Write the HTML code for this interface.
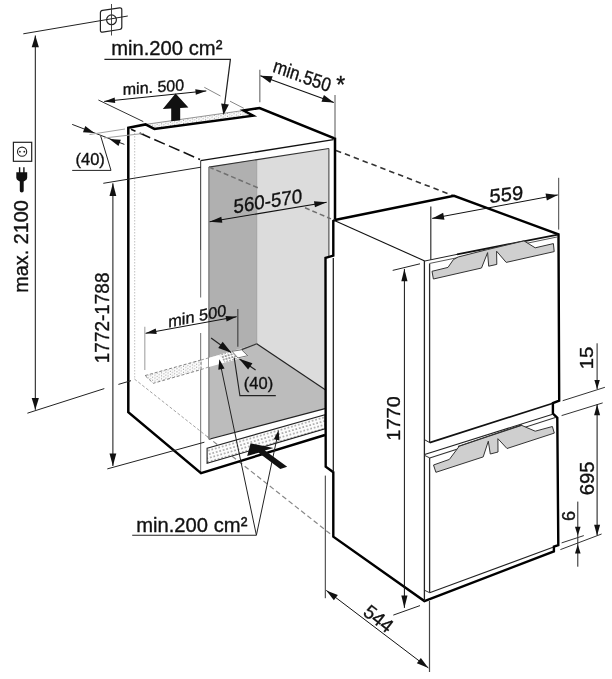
<!DOCTYPE html>
<html><head><meta charset="utf-8"><title>Installation dimensions</title>
<style>
html,body{margin:0;padding:0;background:#fff;}
svg{display:block;will-change:transform;filter:grayscale(1) blur(0.35px);}
text{font-family:"Liberation Sans",sans-serif;fill:#111;stroke:#111;stroke-width:0.35;}
</style></head><body>
<svg width="612" height="679" viewBox="0 0 612 679">
<defs>
<pattern id="dots" width="3.6" height="3.6" patternUnits="userSpaceOnUse" patternTransform="rotate(-16)">
<rect width="3.6" height="3.6" fill="#fcfcfc"/><rect x="0.4" y="0.4" width="1.1" height="1.1" fill="#3a3a3a"/>
</pattern>
<pattern id="dots3" width="3" height="2.9" patternUnits="userSpaceOnUse" patternTransform="rotate(-16) translate(0.8,0.3)">
<rect width="3" height="2.9" fill="#fff"/><rect x="0.4" y="0.4" width="1.3" height="1.3" fill="#222"/>
</pattern>
<pattern id="dots2" width="4.4" height="3" patternUnits="userSpaceOnUse" patternTransform="skewY(-9)">
<rect width="4.4" height="3" fill="#fff"/><rect x="0.4" y="0.3" width="1" height="1" fill="#8c8c8c"/><rect x="2.6" y="1.8" width="1" height="1" fill="#8c8c8c"/>
</pattern>
</defs>
<rect width="612" height="679" fill="#fff"/>
<polygon points="208.9,167.1 256.7,159.4 256.7,343.8 208.9,358" fill="#b0b0b0" stroke="none" stroke-width="0" stroke-linejoin="miter"/>
<polygon points="256.7,159.7 328.9,148.5 328.9,257 325.5,257 325.5,390 256.7,343.8" fill="#dcdcdc" stroke="none" stroke-width="0" stroke-linejoin="miter"/>
<polygon points="208.9,358 256.7,343.8 325.5,390 325.5,408.5 208.9,439.3" fill="#bcbcbc" stroke="none" stroke-width="0" stroke-linejoin="miter"/>
<line x1="256.7" y1="160" x2="256.7" y2="343.8" stroke="#a0a0a0" stroke-width="1" stroke-linecap="butt"/>
<line x1="256.7" y1="343.8" x2="326" y2="390.3" stroke="#222" stroke-width="1.2" stroke-linecap="butt"/>
<line x1="256.7" y1="343.8" x2="241.6" y2="349.6" stroke="#333" stroke-width="1.2" stroke-linecap="butt"/>
<line x1="208.9" y1="439.3" x2="325" y2="408.6" stroke="#222" stroke-width="1.1" stroke-linecap="butt"/>
<line x1="208.9" y1="167.1" x2="328.9" y2="148.5" stroke="#333" stroke-width="1.1" stroke-linecap="butt"/>
<line x1="208.9" y1="167.1" x2="208.9" y2="439.3" stroke="#777" stroke-width="1.3" stroke-linecap="butt"/>
<line x1="328.9" y1="148.5" x2="328.9" y2="257" stroke="#484848" stroke-width="1.1" stroke-linecap="butt"/>
<line x1="200.6" y1="160.7" x2="333.5" y2="139.6" stroke="#111" stroke-width="1.3" stroke-linecap="butt"/>
<line x1="200.6" y1="160.7" x2="200.6" y2="250" stroke="#555" stroke-width="1.2" stroke-linecap="butt"/>
<line x1="200.6" y1="250" x2="200.6" y2="297.5" stroke="#808080" stroke-width="1.2" stroke-linecap="butt"/>
<line x1="200.6" y1="333" x2="200.6" y2="473" stroke="#888" stroke-width="1.2" stroke-linecap="butt"/>
<line x1="209" y1="167" x2="259.5" y2="188.5" stroke="#707070" stroke-width="1.5" stroke-linecap="butt" stroke-dasharray="5 3"/>
<line x1="305" y1="207.8" x2="331" y2="218.9" stroke="#707070" stroke-width="1.5" stroke-linecap="butt" stroke-dasharray="5 3"/>
<line x1="336" y1="150.4" x2="453" y2="195.6" stroke="#333" stroke-width="1.6" stroke-linecap="butt" stroke-dasharray="5.5 4"/>
<line x1="131" y1="129.3" x2="200" y2="159.5" stroke="#111" stroke-width="1.55" stroke-dasharray="11.5 4.5" stroke-dashoffset="6.6"/>
<line x1="134.4" y1="379" x2="207" y2="436.4" stroke="#999" stroke-width="0.9" stroke-linecap="butt" stroke-dasharray="3 2"/>
<line x1="207" y1="436.4" x2="333" y2="536" stroke="#888" stroke-width="1.2" stroke-linecap="butt" stroke-dasharray="5 3"/>
<line x1="134.7" y1="133" x2="134.7" y2="379" stroke="#b0b0b0" stroke-width="0.8" stroke-linecap="butt" stroke-dasharray="1.5 1.5"/>
<polygon points="145,375.6 201,360 201,369.6 153.3,383.3" fill="url(#dots2)" stroke="#666" stroke-width="0.8" stroke-linejoin="miter" stroke-dasharray="3 2"/>
<polygon points="209,357.8 240,349.2 247.8,356.2 209,366.9" fill="#fff" stroke="none" stroke-width="0" stroke-linejoin="miter"/>
<polygon points="219.5,355 232,351.4 237.6,358.6 224.5,362.5" fill="url(#dots3)" stroke="none" stroke-width="0" stroke-linejoin="miter"/>
<polygon points="232,351.3 241.6,349.8 247.7,355.7 237.9,357.9" fill="#fff" stroke="#555" stroke-width="0.8" stroke-linejoin="miter"/>
<line x1="201" y1="360" x2="209" y2="357.8" stroke="#888" stroke-width="0.8" stroke-linecap="butt" stroke-dasharray="3 2"/>
<line x1="201" y1="369.6" x2="209" y2="366.9" stroke="#888" stroke-width="0.8" stroke-linecap="butt" stroke-dasharray="3 2"/>
<polygon points="207.1,448.2 325,414.8 325,428.8 207.1,463.3" fill="url(#dots)" stroke="#222" stroke-width="1.1" stroke-linejoin="miter"/>
<polygon points="145.5,124.4 243.5,110.5 253.2,115.7 154.4,128.9" fill="url(#dots2)" stroke="none" stroke-width="0" stroke-linejoin="miter"/>
<line x1="145.5" y1="124.4" x2="243.5" y2="110.5" stroke="#888" stroke-width="0.9" stroke-linecap="butt"/>
<polyline points="335,219.5 335,138.6 259.6,108 243.5,110.5 253.2,115.7 154.4,128.9 145.5,124.4 128.3,127.8 128.3,412.2 201,473.1 325,435.0" fill="none" stroke="#000" stroke-width="2.5" stroke-linejoin="miter"/>
<polyline points="334.8,220 333.3,221 333.3,255.6 325.5,257.8 325.7,466.7 333.3,472.2 333.3,536.7 424.4,601.1 553.9,551.4 553.9,546.6 558.3,545.2 557.3,417.8 552.9,413.6 552.9,403.1 559.2,400.6 558.5,234.4 454,195.8 334.8,220" fill="none" stroke="#000" stroke-width="2.4" stroke-linejoin="miter"/>
<line x1="333.3" y1="258" x2="333.3" y2="472" stroke="#222" stroke-width="1.3" stroke-linecap="butt"/>
<line x1="334.4" y1="220.5" x2="424.8" y2="261" stroke="#111" stroke-width="1.1" stroke-linecap="butt"/>
<line x1="424.8" y1="261" x2="457" y2="254.4" stroke="#222" stroke-width="1" stroke-linecap="butt"/>
<line x1="457" y1="254.4" x2="558" y2="234.6" stroke="#111" stroke-width="1.8" stroke-linecap="butt"/>
<line x1="424.4" y1="261" x2="424.4" y2="601" stroke="#222" stroke-width="1.3" stroke-linecap="butt"/>
<line x1="429.6" y1="263.8" x2="429.6" y2="442.6" stroke="#2a2a2a" stroke-width="1.3" stroke-linecap="butt"/>
<line x1="429.6" y1="457.9" x2="429.6" y2="592.7" stroke="#2a2a2a" stroke-width="1.3" stroke-linecap="butt"/>
<line x1="429.3" y1="263.5" x2="557" y2="237" stroke="#444" stroke-width="0.9" stroke-linecap="butt"/>
<line x1="429.7" y1="442.6" x2="553" y2="403.2" stroke="#111" stroke-width="1.7" stroke-linecap="butt"/>
<line x1="424.4" y1="439.6" x2="429.7" y2="442.6" stroke="#222" stroke-width="1" stroke-linecap="butt"/>
<line x1="424.6" y1="454.6" x2="552.7" y2="414.2" stroke="#222" stroke-width="1.1" stroke-linecap="butt"/>
<line x1="429.7" y1="457.9" x2="555.4" y2="417.5" stroke="#333" stroke-width="1.1" stroke-linecap="butt"/>
<line x1="424.4" y1="455.3" x2="429.7" y2="457.9" stroke="#333" stroke-width="1" stroke-linecap="butt"/>
<line x1="458.1" y1="446.7" x2="522" y2="425.1" stroke="#1a1a1a" stroke-width="1.7" stroke-linecap="butt"/>
<line x1="429.6" y1="592.7" x2="553" y2="547.2" stroke="#222" stroke-width="1.1" stroke-linecap="butt"/>
<line x1="424.8" y1="590.4" x2="429.6" y2="592.7" stroke="#333" stroke-width="1" stroke-linecap="butt"/>
<polygon points="432,271.3 448,267.4 453.4,259.6 458.1,257 487.3,249.6 524,240.9 535.2,247.8 553.4,243.6 554.2,251.6 506.2,262.4 496.6,251.2 496.8,264.4 488.7,266.2 487.6,252.6 481.5,268 433.4,279" fill="#cfcfcf" stroke="#333" stroke-width="1" stroke-linejoin="miter"/>
<polygon points="433.5,465 449.4,459.4 459.2,446.3 488.5,436.4 521.7,425.4 535.2,431.2 552.4,426.5 554.3,433.1 507,448.5 497.9,438.7 498,452 490.3,454 488.3,441.2 483.2,456.9 435.9,472.3" fill="#cfcfcf" stroke="#333" stroke-width="1" stroke-linejoin="miter"/>
<line x1="23.3" y1="33.8" x2="127.8" y2="16" stroke="#222" stroke-width="1" stroke-linecap="butt"/>
<path d="M100.4 12.8 Q100.4 10.6 102.6 10.3 L119.6 7.9 Q121.8 7.6 121.8 9.8 L121.8 27 Q121.8 29.2 119.6 29.5 L102.6 32.1 Q100.4 32.4 100.4 30.2 Z" fill="none" stroke="#222" stroke-width="1.2"/>
<circle cx="111.5" cy="19.8" r="4.9" fill="none" stroke="#222" stroke-width="1.2"/>
<line x1="111.5" y1="4" x2="111.5" y2="35.5" stroke="#333" stroke-width="0.9" stroke-linecap="butt"/>
<line x1="35.3" y1="35.5" x2="35.3" y2="409.8" stroke="#111" stroke-width="1" stroke-linecap="butt"/>
<polygon points="35.30,35.50 38.90,47.30 31.70,47.30" fill="#111"/>
<polygon points="35.30,409.80 31.70,398.00 38.90,398.00" fill="#111"/>
<line x1="27.4" y1="413.2" x2="104.3" y2="388.6" stroke="#222" stroke-width="1" stroke-linecap="butt"/>
<line x1="118.4" y1="384.4" x2="131" y2="380.7" stroke="#222" stroke-width="1" stroke-linecap="butt"/>
<rect x="13.4" y="142.3" width="18.3" height="19" fill="none" stroke="#222" stroke-width="1.2"/>
<circle cx="22.1" cy="151.7" r="4.6" fill="none" stroke="#222" stroke-width="1.1"/>
<circle cx="19.9" cy="151.7" r="0.9" fill="#222"/><circle cx="24.3" cy="151.7" r="0.9" fill="#222"/>
<path d="M18.9 167.3v4.9h-2.6v5.6q0 2.2 2.2 3l1.3 0.6v9.4q0 1.7 1.95 1.7q1.95 0 1.95 -1.7v-9.4l1.3 -0.6q2.2 -0.8 2.2 -3v-5.6h-2.6v-4.9h-1.4v4.9h-2.9v-4.9z" fill="#111"/>
<text transform="translate(28.4,292.8) rotate(-90) scale(0.968,1)" font-size="20.5" text-anchor="start" >max. 2100</text>
<text transform="translate(111.2,54.9) scale(0.972,1)" font-size="20.8" text-anchor="start" >min.200 cm²</text>
<polyline points="104.4,59.3 230.4,59.3 224.4,106" fill="none" stroke="#222" stroke-width="1.25" stroke-linejoin="miter"/>
<polygon points="223.50,115.00 221.15,103.38 228.88,104.43" fill="#111"/>
<line x1="104.2" y1="101.4" x2="206.3" y2="90.9" stroke="#111" stroke-width="1" stroke-linecap="butt"/>
<polygon points="104.20,101.40 114.66,97.51 115.23,103.08" fill="#111"/>
<polygon points="206.30,90.90 195.84,94.79 195.27,89.22" fill="#111"/>
<line x1="98.4" y1="100" x2="143.3" y2="121.6" stroke="#333" stroke-width="1" stroke-linecap="butt"/>
<line x1="204.3" y1="87.3" x2="220.5" y2="96" stroke="#888" stroke-width="1" stroke-linecap="butt"/>
<line x1="230" y1="101.2" x2="243.8" y2="108.3" stroke="#888" stroke-width="1" stroke-linecap="butt"/>
<text transform="matrix(1,-0.075,0,1,122.8,94.9)" font-size="16.0" text-anchor="start" >min. 500</text>
<polygon points="175.6,93.5 188.4,107.5 180.2,108 180.2,120.3 171.2,121.3 171.2,108.6 162.8,109" fill="#111"/>
<line x1="259.8" y1="69.8" x2="259.8" y2="102.2" stroke="#888" stroke-width="1.4" stroke-linecap="butt"/>
<line x1="335" y1="95" x2="335" y2="138" stroke="#555" stroke-width="1" stroke-linecap="butt"/>
<line x1="260.4" y1="75.7" x2="333.8" y2="102.4" stroke="#111" stroke-width="1.1" stroke-linecap="butt"/>
<polygon points="260.40,75.70 272.72,76.35 270.26,83.12" fill="#111"/>
<polygon points="333.80,102.40 321.48,101.75 323.94,94.98" fill="#111"/>
<text transform="matrix(0.822,0.301,-0.29,0.96,271.9,71.6)" font-size="19.4" text-anchor="start" >min.550</text>
<text transform="translate(336.3,92.8)" font-size="23" text-anchor="start" >*</text>
<line x1="72.2" y1="124.4" x2="124.4" y2="144.4" stroke="#222" stroke-width="1" stroke-linecap="butt"/>
<polygon points="94.40,133.00 82.95,132.15 85.31,125.98" fill="#111"/>
<polygon points="109.40,139.00 120.85,139.82 118.51,145.99" fill="#111"/>
<line x1="89.5" y1="134.5" x2="125" y2="129" stroke="#a0a0a0" stroke-width="1" stroke-linecap="butt"/>
<line x1="104" y1="138" x2="144" y2="133.4" stroke="#a0a0a0" stroke-width="1" stroke-linecap="butt"/>
<polyline points="100.7,136 111,170.4 72.2,170.4" fill="none" stroke="#222" stroke-width="1" stroke-linejoin="miter"/>
<text transform="translate(75.5,164.7)" font-size="16.5" text-anchor="start" >(40)</text>
<line x1="112.9" y1="183.3" x2="112.9" y2="466" stroke="#111" stroke-width="1" stroke-linecap="butt"/>
<polygon points="112.90,183.30 116.30,195.90 109.50,195.90" fill="#111"/>
<polygon points="112.90,466.00 109.50,453.40 116.30,453.40" fill="#111"/>
<line x1="103.3" y1="183.3" x2="201" y2="167.2" stroke="#222" stroke-width="1" stroke-linecap="butt"/>
<line x1="107.3" y1="468.9" x2="204.4" y2="442.2" stroke="#222" stroke-width="1" stroke-linecap="butt"/>
<text transform="translate(109.4,363.2) rotate(-90) scale(0.912,1)" font-size="20.8" text-anchor="start" >1772-1788</text>
<line x1="209.6" y1="221.8" x2="326.7" y2="202.2" stroke="#111" stroke-width="1.1" stroke-linecap="butt"/>
<polygon points="209.60,221.80 221.32,216.70 222.34,222.81" fill="#111"/>
<polygon points="326.70,202.20 314.98,207.30 313.96,201.19" fill="#111"/>
<text transform="matrix(0.945,-0.15,0,1,233.5,213.4)" font-size="19.8" text-anchor="start" >560-570</text>
<line x1="144.8" y1="326.7" x2="144.8" y2="370" stroke="#aaa" stroke-width="1.2" stroke-linecap="butt"/>
<line x1="237.8" y1="308.9" x2="237.8" y2="346.7" stroke="#555" stroke-width="1.4" stroke-linecap="butt"/>
<line x1="145.6" y1="333.3" x2="236.7" y2="316.7" stroke="#111" stroke-width="1" stroke-linecap="butt"/>
<polygon points="145.60,333.30 155.72,328.61 156.73,334.12" fill="#111"/>
<polygon points="236.70,316.70 226.58,321.39 225.57,315.88" fill="#111"/>
<text transform="matrix(1,-0.2,0,1,168.3,327.4)" font-size="16.3" text-anchor="start" >min 500</text>
<line x1="211.1" y1="338.1" x2="231" y2="352.4" stroke="#222" stroke-width="1.2" stroke-linecap="butt"/>
<polygon points="231.40,352.70 218.22,347.90 222.66,341.73" fill="#111"/>
<line x1="239.5" y1="359" x2="255.6" y2="370.1" stroke="#222" stroke-width="1.2" stroke-linecap="butt"/>
<polygon points="239.20,358.70 252.45,363.29 248.12,369.53" fill="#111"/>
<polyline points="234.2,357.7 239.9,395.6 275.8,395.6" fill="none" stroke="#222" stroke-width="1.1" stroke-linejoin="miter"/>
<text transform="translate(243.8,389.2)" font-size="16.5" text-anchor="start" >(40)</text>
<text transform="translate(136.2,531.6) scale(0.972,1)" font-size="20.8" text-anchor="start" >min.200 cm²</text>
<polyline points="132.2,535.2 256.4,535.2" fill="none" stroke="#222" stroke-width="1.1" stroke-linejoin="miter"/>
<line x1="256.4" y1="535.2" x2="221.2" y2="368" stroke="#222" stroke-width="1" stroke-linecap="butt"/>
<polygon points="219.30,359.30 224.56,368.39 218.31,369.75" fill="#111"/>
<line x1="256.4" y1="535.2" x2="277" y2="438" stroke="#222" stroke-width="1" stroke-linecap="butt"/>
<polygon points="278.60,430.10 279.46,440.48 273.77,439.33" fill="#111"/>
<polygon points="250.6,443.3 273.5,447.9 264.9,450.5 287.2,466.8 280.3,469.1 258.6,452.8 247.2,455.9" fill="#111"/>
<line x1="430.8" y1="206.5" x2="430.8" y2="260" stroke="#333" stroke-width="1.2" stroke-linecap="butt"/>
<line x1="558.7" y1="177.8" x2="558.7" y2="229.6" stroke="#444" stroke-width="1" stroke-linecap="butt"/>
<line x1="432.2" y1="218.4" x2="557.8" y2="194.9" stroke="#111" stroke-width="1" stroke-linecap="butt"/>
<polygon points="432.20,218.40 443.14,212.69 444.46,219.77" fill="#111"/>
<polygon points="557.80,194.90 546.86,200.61 545.54,193.53" fill="#111"/>
<text transform="matrix(1.03,-0.11,0,1,489.6,203)" font-size="19.5" text-anchor="start" >559</text>
<line x1="404.4" y1="268.9" x2="404.4" y2="607.9" stroke="#111" stroke-width="1" stroke-linecap="butt"/>
<polygon points="404.40,268.90 407.50,281.20 401.30,281.20" fill="#111"/>
<polygon points="404.40,607.90 401.30,595.60 407.50,595.60" fill="#111"/>
<line x1="392.7" y1="270.4" x2="420" y2="263.8" stroke="#222" stroke-width="1" stroke-linecap="butt"/>
<line x1="393.3" y1="615.1" x2="420" y2="605.6" stroke="#222" stroke-width="1" stroke-linecap="butt"/>
<text transform="translate(400.1,440.7) rotate(-90) scale(1.1,1)" font-size="18.2" text-anchor="start" >1770</text>
<line x1="597.1" y1="343.3" x2="597.1" y2="389" stroke="#222" stroke-width="1" stroke-linecap="butt"/>
<polygon points="597.10,389.20 594.40,380.00 599.80,380.00" fill="#111"/>
<line x1="562.7" y1="400.7" x2="604.9" y2="387.3" stroke="#333" stroke-width="1" stroke-linecap="butt"/>
<line x1="561.6" y1="415.6" x2="602.7" y2="402.9" stroke="#333" stroke-width="1" stroke-linecap="butt"/>
<line x1="597.1" y1="404.4" x2="597.1" y2="535.6" stroke="#111" stroke-width="1" stroke-linecap="butt"/>
<polygon points="597.10,404.40 600.10,415.20 594.10,415.20" fill="#111"/>
<polygon points="597.10,535.60 594.10,524.80 600.10,524.80" fill="#111"/>
<text transform="translate(592.5,369.3) rotate(-90) scale(1.06,1)" font-size="19.2" text-anchor="start" >15</text>
<text transform="translate(593.6,495.3) rotate(-90) scale(1.04,1)" font-size="19.5" text-anchor="start" >695</text>
<line x1="577.8" y1="501.6" x2="577.8" y2="566.7" stroke="#222" stroke-width="1" stroke-linecap="butt"/>
<polygon points="577.80,535.80 575.00,526.80 580.60,526.80" fill="#111"/>
<polygon points="577.80,544.40 580.60,553.40 575.00,553.40" fill="#111"/>
<line x1="561.6" y1="542.9" x2="583.8" y2="535.6" stroke="#333" stroke-width="1" stroke-linecap="butt"/>
<line x1="560.4" y1="549.6" x2="601.6" y2="534" stroke="#333" stroke-width="1" stroke-linecap="butt"/>
<text transform="translate(575.2,521) rotate(-90)" font-size="18" text-anchor="start" >6</text>
<line x1="325.3" y1="475.6" x2="325.3" y2="598.2" stroke="#333" stroke-width="1" stroke-linecap="butt"/>
<line x1="429.5" y1="601" x2="429.5" y2="672" stroke="#444" stroke-width="1.2" stroke-linecap="butt"/>
<line x1="326.3" y1="590.4" x2="428.4" y2="667.9" stroke="#111" stroke-width="1" stroke-linecap="butt"/>
<polygon points="326.30,590.40 337.85,595.03 333.86,600.28" fill="#111"/>
<polygon points="428.40,667.90 416.85,663.27 420.84,658.02" fill="#111"/>
<text transform="translate(362,614.3) rotate(38) scale(0.97,1)" font-size="19.5" text-anchor="start" >544</text>
</svg>
</body></html>
